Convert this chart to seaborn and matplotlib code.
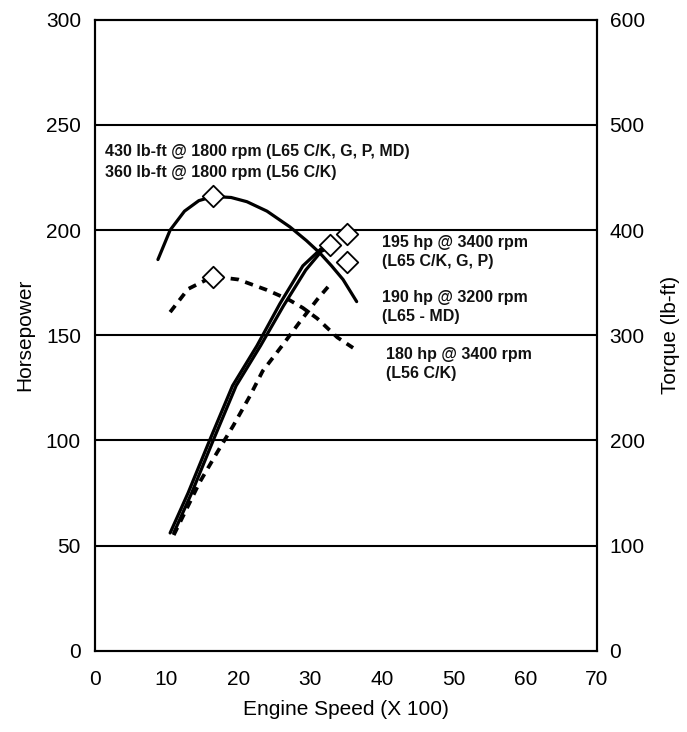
import pandas as pd
import matplotlib
matplotlib.use("Agg")
import matplotlib.pyplot as plt
import seaborn as sns

# curve data (rpm in hundreds)
hp_l65_rpm = [10.5, 13, 16, 19.2, 22.6, 25.8, 29, 31.5, 32.8]
hp_l65 = [56, 75, 100, 126, 145, 165, 183, 191, 193]
hp_l65b_rpm = [11.0, 13.5, 16.5, 19.7, 23.1, 26.3, 29.4, 31.6, 33.0]
hp_l65b = [56, 75, 100, 126, 145, 164, 181, 190, 192]
hp_l56_rpm = [11.0, 12.3, 14.6, 17.0, 19.3, 21.6, 23.4, 26.1, 28.5, 31.0, 33.0]
hp_l56 = [55, 64, 80, 94, 107, 121, 133, 145, 156, 167, 175]

tq_l65_rpm = [8.8, 10.5, 12.5, 14.5, 16.5, 19, 21.2, 24, 27.2, 29.5, 31.4, 33, 34.6, 36.5]
tq_l65 = [372, 400, 418, 428, 432, 431, 427, 418, 403, 390, 378, 366, 353, 332]
tq_l56_rpm = [10.5, 13, 16.5, 20, 24, 27, 29, 31, 33.8, 36]
tq_l56 = [322, 344, 356, 353, 343, 334, 326, 316, 298, 288]

# peak markers
peak_hp_rpm = [32.8, 35.1, 35.1]
peak_hp = [193, 198, 185]
peak_tq_rpm = [16.5, 16.5]
peak_tq = [432, 355]

fig = plt.figure(figsize=(6.87, 7.32), dpi=100)
sns.set_style("white")
plt.rcParams["font.family"] = ["Liberation Sans", "DejaVu Sans"]
ax = fig.add_axes([0.138, 0.111, 0.731, 0.862])

# horsepower curves
sns.lineplot(x=hp_l65_rpm, y=hp_l65, ax=ax, color="black", lw=2.3, sort=False)
sns.lineplot(x=hp_l65b_rpm, y=hp_l65b, ax=ax, color="black", lw=2.3, sort=False)
sns.lineplot(x=hp_l56_rpm, y=hp_l56, ax=ax, color="black", lw=2.7, sort=False,
             linestyle=(0, (2.2, 1.8)))

ax.set_xlim(0, 70)
ax.set_ylim(0, 300)
ax.set_xticks(range(0, 71, 10))
ax.set_yticks(range(0, 301, 50))
for yv in [50, 100, 150, 200, 250]:
    ax.axhline(yv, color="black", lw=1.5, zorder=0)
ax.tick_params(axis="x", direction="out", length=6, width=1.2, labelsize=15, pad=8,
               labelcolor="black")
ax.tick_params(axis="y", length=0, labelsize=15, pad=10, labelcolor="black")
ax.set_xlabel("Engine Speed (X 100)", fontsize=15, labelpad=8, color="black")
ax.set_ylabel("Horsepower", fontsize=15, labelpad=8, color="black")
for s in ax.spines.values():
    s.set_color("black")
    s.set_linewidth(1.5)

# torque on the right axis
ax2 = ax.twinx()
sns.lineplot(x=tq_l65_rpm, y=tq_l65, ax=ax2, color="black", lw=2.3, sort=False)
sns.lineplot(x=tq_l56_rpm, y=tq_l56, ax=ax2, color="black", lw=2.7, sort=False,
             linestyle=(0, (2.2, 1.8)))
sns.scatterplot(x=peak_tq_rpm, y=peak_tq, ax=ax2, marker="D", s=120,
                facecolor="white", edgecolor="black", linewidth=1.3, zorder=5)
ax2.set_ylim(0, 600)
ax2.set_yticks(range(0, 601, 100))
ax2.tick_params(axis="y", length=0, labelsize=15, pad=9, labelcolor="black")
ax2.set_ylabel("Torque (lb-ft)", fontsize=15, labelpad=12, color="black")
for s in ax2.spines.values():
    s.set_color("black")
    s.set_linewidth(1.5)

sns.scatterplot(x=peak_hp_rpm, y=peak_hp, ax=ax2, marker="D", s=120,
                facecolor="white", edgecolor="black", linewidth=1.3, zorder=6,
                transform=ax.transData)

# labels
lbl = dict(fontsize=11.5, fontweight="bold", va="center", color="#111111")
ax.text(1.4, 237.3, "430 lb-ft @ 1800 rpm (L65 C/K, G, P, MD)", **lbl)
ax.text(1.4, 227.5, "360 lb-ft @ 1800 rpm (L56 C/K)", **lbl)
ax.text(40.0, 194, "195 hp @ 3400 rpm", **lbl)
ax.text(40.0, 185, "(L65 C/K, G, P)", **lbl)
ax.text(40.0, 168, "190 hp @ 3200 rpm", **lbl)
ax.text(40.0, 159, "(L65 - MD)", **lbl)
ax.text(40.6, 141, "180 hp @ 3400 rpm", **lbl)
ax.text(40.6, 132, "(L56 C/K)", **lbl)

fig.savefig("out.png", dpi=100)
